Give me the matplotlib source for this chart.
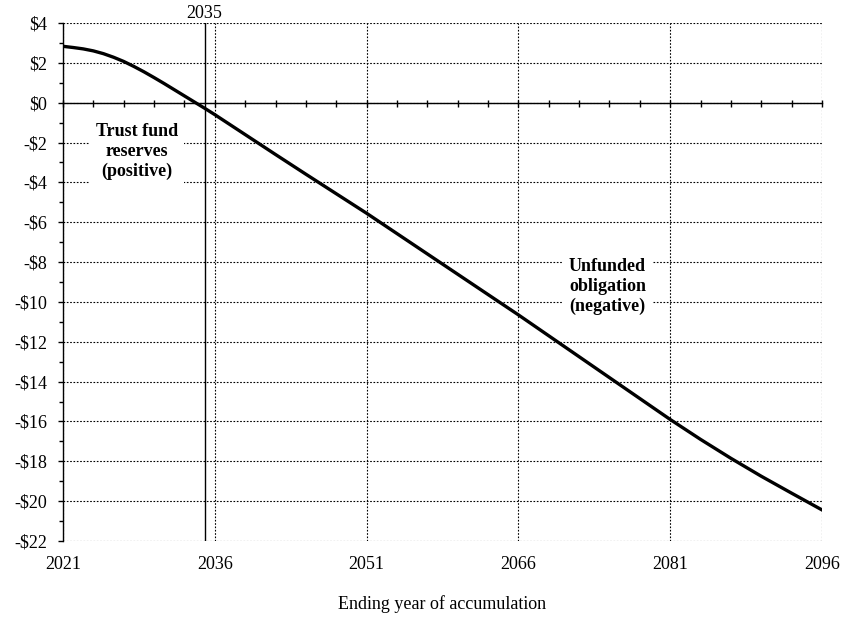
import numpy as np
import matplotlib
matplotlib.use("Agg")
import matplotlib.pyplot as plt
from matplotlib.ticker import MultipleLocator, FuncFormatter

plt.rcParams.update({
    "font.family": ["Liberation Serif", "DejaVu Serif"],
    "font.size": 13,
})

# --- DATA (trillions of dollars) ---
years = [2021, 2022, 2023, 2024, 2025, 2026, 2027, 2028, 2029, 2030, 2031,
         2032, 2033, 2034, 2035, 2036, 2039, 2042, 2045, 2048, 2051,
         2054, 2057, 2060, 2063, 2066, 2069, 2072, 2075, 2078, 2081,
         2084, 2087, 2090, 2093, 2096]
values = [2.83, 2.77, 2.70, 2.60, 2.46, 2.28, 2.07, 1.82, 1.55, 1.26, 0.96,
          0.65, 0.34, 0.03, -0.28, -0.60, -1.60, -2.60, -3.59, -4.57, -5.55,
          -6.57, -7.59, -8.61, -9.63, -10.65, -11.70, -12.75, -13.80, -14.85, -15.90,
          -16.90, -17.85, -18.75, -19.60, -20.44]
depletion_year = 2035
year_ticks = [2021, 2036, 2051, 2066, 2081, 2096]
y_min, y_max = -22, 4


def dollar_fmt(v, pos):
    v = int(round(v))
    return f"-${abs(v)}" if v < 0 else f"${v}"


fig = plt.figure(figsize=(8.44, 6.43), dpi=100)
ax = fig.add_axes([63 / 844, 1 - 541 / 643, (822 - 63) / 844, (541 - 23) / 643])

ax.set_xlim(year_ticks[0], year_ticks[-1])
ax.set_ylim(y_min, y_max)

# grid
ax.set_xticks(year_ticks)
ax.yaxis.set_major_locator(MultipleLocator(2))
ax.yaxis.set_minor_locator(MultipleLocator(1))
ax.yaxis.set_major_formatter(FuncFormatter(dollar_fmt))
ax.grid(True, which="major", color="black", linestyle=(0, (1.5, 1.5)), linewidth=0.8)
ax.set_axisbelow(True)

for s in ["top", "right", "bottom"]:
    ax.spines[s].set_visible(False)
ax.spines["left"].set_linewidth(1.0)

ax.tick_params(axis="x", length=0, pad=11)
ax.tick_params(axis="y", which="major", length=5 * 0.72, width=1, pad=8)
ax.tick_params(axis="y", which="minor", length=4 * 0.72, width=1)

# zero line with 3-year ticks
zero_pos = (0 - y_min) / (y_max - y_min)
sec = ax.secondary_xaxis(zero_pos)
sec.xaxis.set_major_locator(MultipleLocator(3, offset=year_ticks[0] % 3))
sec.tick_params(axis="x", which="both", direction="inout", length=7 * 0.72, width=1,
                labelbottom=False, labeltop=False)
for sp in sec.spines.values():
    sp.set_linewidth(1.0)

# depletion year line
ax.axvline(depletion_year, color="black", linewidth=1.0)
ax.text(depletion_year, y_max + 0.05, str(depletion_year), ha="center", va="bottom")

# the curve
ax.plot(years, values, color="black", linewidth=2.4, solid_joinstyle="round", zorder=5)

# annotations
box = dict(facecolor="white", edgecolor="none", pad=4)
ax.text(2028.3, -2.46, "Trust fund\nreserves\n(positive)", ha="center", va="center",
        fontweight="bold", linespacing=1.2, bbox=box, zorder=4)
ax.text(2074.8, -9.23, "Unfunded\nobligation\n(negative)", ha="center", va="center",
        fontweight="bold", linespacing=1.2, bbox=box, zorder=4)

ax.set_xlabel("Ending year of accumulation", labelpad=16)

fig.savefig("out.png", dpi=100)
